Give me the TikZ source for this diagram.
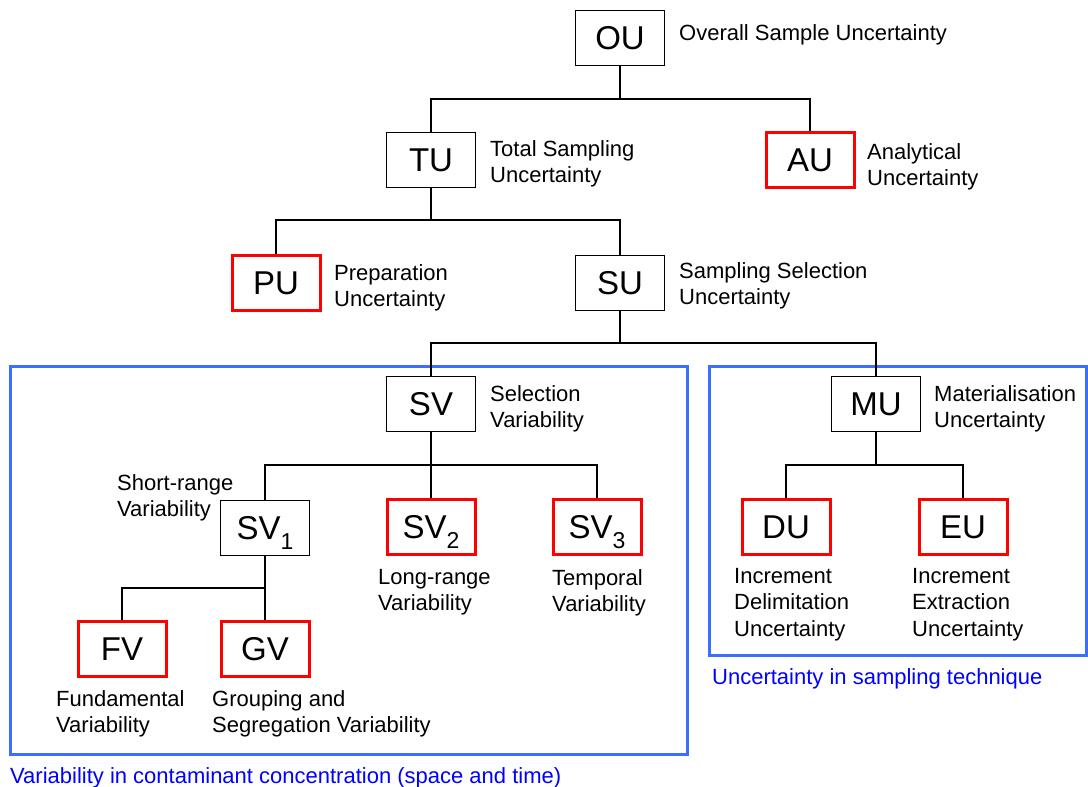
\documentclass[tikz,border=0pt]{standalone}
\usepackage{fontspec}
\setmainfont{Liberation Sans}
\usepackage{tikz}
\usetikzlibrary{positioning}

\definecolor{frameblue}{RGB}{60,110,255}
\newcommand{\lowidx}[1]{\raisebox{-0.3em}{\fontsize{23}{23}\selectfont #1}}

\begin{document}
\begin{tikzpicture}[x=1pt, y=-1pt,
  box/.style={draw, line width=1.2pt, minimum width=89pt, minimum height=55pt,
    inner sep=0pt, text height=23pt, text depth=0pt, font=\fontsize{33}{36}\selectfont},
  redbox/.style={box, draw=red, line width=3pt, minimum width=88pt, minimum height=55pt},
  lbl/.style={align=left, inner sep=0pt, anchor=north west, font=\fontsize{22}{26.5}\selectfont},
  link/.style={line width=1.3pt},
  frame/.style={draw=frameblue, line width=3pt}]
  \useasboundingbox (0,0) rectangle (1088,787);

  % blue frames
  \draw[frame] (10,366) rectangle (687,754);
  \draw[frame] (709,366) rectangle (1086,655);

  % boxes
  \node[box] (ou) at (620,38) {OU};
  \node[box] (tu) at (431,160) {TU};
  \node[redbox] (au) at (810,160) {AU};
  \node[redbox] (pu) at (276,283) {PU};
  \node[box] (su) at (620,283) {SU};
  \node[box] (sv) at (431,404) {SV};
  \node[box] (mu) at (876,404) {MU};
  \node[box] (sv1) at (265,528) {SV\lowidx{1}};
  \node[redbox] (sv2) at (431,527) {SV\lowidx{2}};
  \node[redbox] (sv3) at (597,527) {SV\lowidx{3}};
  \node[redbox] (fv) at (122,649) {FV};
  \node[redbox] (gv) at (265,649) {GV};
  \node[redbox] (du) at (786,527) {DU};
  \node[redbox] (eu) at (963,527) {EU};

  % labels
  \node[lbl] (oul) at (679,24) {Overall Sample Uncertainty};
  \node[lbl] (tul) at (490,140) {Total Sampling\\Uncertainty};
  \node[lbl] (aul) at (867,143) {Analytical\\Uncertainty};
  \node[lbl] (pul) at (334,264) {Preparation\\Uncertainty};
  \node[lbl] (sul) at (679,262) {Sampling Selection\\Uncertainty};
  \node[lbl] (svl) at (490,385) {Selection\\Variability};
  \node[lbl] (mul) at (934,385) {Materialisation\\Uncertainty};
  \node[lbl] (sv1l) at (117,474) {Short-range\\Variability};
  \node[lbl] (sv2l) at (378,569) {Long-range\\Variability};
  \node[lbl] (sv3l) at (552,569) {Temporal\\Variability};
  \node[lbl] (fvl) at (56,690) {Fundamental\\Variability};
  \node[lbl] (gvl) at (212,690) {Grouping and\\Segregation Variability};
  \node[lbl] (dul) at (734,568) {Increment\\Delimitation\\Uncertainty};
  \node[lbl] (eul) at (912,568) {Increment\\Extraction\\Uncertainty};
  \node[lbl, text=blue] (leftcap) at (10,767) {Variability in contaminant concentration (space and time)};
  \node[lbl, text=blue] (rightcap) at (712,668) {Uncertainty in sampling technique};

  % junctions
  \coordinate (j1) at (620,99);
  \coordinate (j2) at (431,220);
  \coordinate (j3) at (620,343);
  \coordinate (j4) at (431,465);
  \coordinate (j5) at (265,588);
  \coordinate (j6) at (876,465);

  % tree lines
  \draw[link] (ou) -- (j1);
  \draw[link] (tu) |- (j1) -| (au);
  \draw[link] (tu) -- (j2);
  \draw[link] (pu) |- (j2) -| (su);
  \draw[link] (su) -- (j3);
  \draw[link] (sv) |- (j3) -| (mu);
  \draw[link] (sv) -- (j4);
  \draw[link] (sv1) |- (j4) -| (sv3);
  \draw[link] (j4) -- (sv2);
  \draw[link] (sv1) -- (j5);
  \draw[link] (fv) |- (j5);
  \draw[link] (j5) -- (gv);
  \draw[link] (mu) -- (j6);
  \draw[link] (du) |- (j6) -| (eu);
\end{tikzpicture}
\end{document}
